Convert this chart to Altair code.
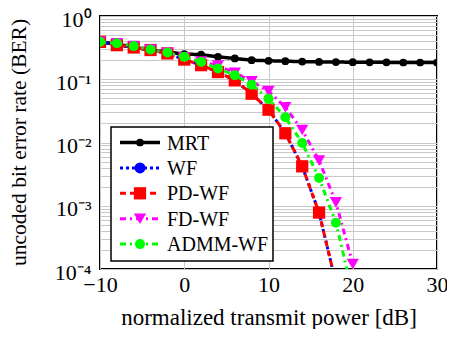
import altair as alt
import pandas as pd

# ---- data ----
snr_db = [-10, -8, -6, -4, -2, 0, 2, 4, 6, 8, 10, 12, 14, 16, 18, 20, 22, 24, 26, 28, 30]
ber_mrt = [0.39, 0.36, 0.32, 0.29, 0.27, 0.25, 0.245, 0.226, 0.213, 0.20, 0.196, 0.193,
           0.19, 0.188, 0.187, 0.186, 0.185, 0.185, 0.184, 0.184, 0.184]
snr_wf = [-10, -8, -6, -4, -2, 0, 2, 4, 6, 8, 10, 12, 14, 16, 18]
ber_wf = [0.39, 0.346, 0.318, 0.29, 0.256, 0.205, 0.167, 0.13, 0.096, 0.059, 0.033,
          0.014, 0.0042, 0.00078, 0.00006]
ber_pdwf = [0.39, 0.346, 0.318, 0.29, 0.256, 0.205, 0.167, 0.13, 0.096, 0.059, 0.033,
            0.014, 0.0042, 0.00078, 0.00006]
snr_fd = [-10, -8, -6, -4, -2, 0, 2, 4, 6, 8, 10, 12, 14, 16, 18, 20]
ber_fdwf = [0.39, 0.37, 0.334, 0.296, 0.262, 0.222, 0.19, 0.165, 0.126, 0.093, 0.065,
            0.036, 0.0158, 0.0052, 0.00113, 0.00012]
ber_admm = [0.39, 0.37, 0.334, 0.296, 0.265, 0.226, 0.188, 0.148, 0.116, 0.082, 0.049,
            0.025, 0.0098, 0.00275, 0.00054, 0.00004]

series = [
    # name, x, y, color, dash, shape, size, width
    ("MRT", snr_db, ber_mrt, "#000000", [1, 0], "circle", 60, 3.5),
    ("WF", snr_wf, ber_wf, "#0000ff", [3, 3], "circle", 120, 3),
    ("PD-WF", snr_wf, ber_pdwf, "#ff0000", [6, 4], "square", 150, 3),
    ("FD-WF", snr_fd, ber_fdwf, "#ff00ff", [6, 4, 2, 4], "triangle-down", 150, 3),
    ("ADMM-WF", snr_fd, ber_admm, "#00ff00", [6, 4, 2, 4], "circle", 100, 3),
]

FONT = "Liberation Serif"
W, H = 337, 253

xscale = alt.Scale(domain=[-10, 30], nice=False, zero=False)
yscale = alt.Scale(type="log", domain=[1e-4, 1], nice=False)

ytick_vals = []
for e in [-4, -3, -2, -1]:
    for m in range(1, 10):
        ytick_vals.append(m * 10 ** e)
ytick_vals.append(1.0)

xaxis = alt.Axis(values=[-10, 0, 10, 20, 30], title="normalized transmit power [dB]",
                 labelExpr="datum.value < 0 ? '\u2212' + (-datum.value) : '' + datum.value",
                 grid=True, ticks=False, domain=False, labelPadding=5,
                 titleY=55, titleBaseline="alphabetic",
                 labelFlush=False, labelFont=FONT, labelFontSize=22, titleFont=FONT,
                 titleFontSize=23, labelOverlap=False)
yaxis = alt.Axis(values=ytick_vals, title="uncoded bit error rate (BER)",
                 labelExpr="(abs(log(datum.value)/log(10) - round(log(datum.value)/log(10))) < 1e-6) ? "
                           "({'0':'10\u2070','-1':'10\u207b\u00b9','-2':'10\u207b\u00b2','-3':'10\u207b\u00b3','-4':'10\u207b\u2074'})[''+round(log(datum.value)/log(10))] : ''",
                 grid=True, ticks=False, domain=False, labelPadding=9, labelOffset=3,
                 titleX=-81, titleY=126, titleBaseline="middle", titleAlign="center",
                 labelFlush=False, labelFont=FONT, labelFontSize=22, titleFont=FONT,
                 titleFontSize=21.5, labelOverlap=False)

layers = []
for name, xs, ys, color, dash, shape, size, width in series:
    df = pd.DataFrame({"x": xs, "y": ys, "s": name})
    base = alt.Chart(df).encode(
        x=alt.X("x:Q", scale=xscale, axis=xaxis),
        y=alt.Y("y:Q", scale=yscale, axis=yaxis))
    line = base.mark_line(color=color, strokeDash=dash, strokeWidth=width, clip=True)
    pts = base.mark_point(shape=shape, size=size, filled=True, color=color, opacity=1,
                          clip=True)
    layers += [line, pts]

# ---- legend (drawn by hand, pgfplots style) ----
leg_names = [s[0] for s in series]
leg_df = pd.DataFrame({"name": leg_names, "i": list(range(len(leg_names)))})
box = alt.Chart(pd.DataFrame({"a": [0]})).mark_rect(
    fill="white", stroke="black", strokeWidth=1.5).encode(
    x=alt.value(11), x2=alt.value(173), y=alt.value(111), y2=alt.value(245))
layers.append(box)
for k, (name, xs, ys, color, dash, shape, size, width) in enumerate(series):
    d = leg_df[leg_df["name"] == name]
    b = alt.Chart(d).transform_calculate(py="126.5 + datum.i * 25.4")
    layers.append(b.mark_rule(color=color, strokeDash=dash, strokeWidth=width).encode(
        x=alt.value(20), x2=alt.value(60), y=alt.Y("py:Q", scale=None)))
    layers.append(b.mark_point(shape=shape, size=size, filled=True, color=color,
                               opacity=1).encode(
        x=alt.value(40), y=alt.Y("py:Q", scale=None)))
    layers.append(b.mark_text(align="left", baseline="middle", font=FONT, fontSize=20,
                              color="black", dy=1).encode(
        x=alt.value(67), y=alt.Y("py:Q", scale=None), text="name:N"))

chart = alt.layer(*layers).properties(
    width=W, height=H,
    autosize=alt.AutoSizeParams(type="none"),
    padding={"left": 92, "top": 8, "right": 10, "bottom": 60},
).configure_view(stroke="black", strokeWidth=2).configure_axis(
    labelFont=FONT, titleFont=FONT,
    labelColor="black", titleColor="black", titleFontWeight="normal",
    gridColor="#c8c8c8", gridWidth=1,
)

chart.save("out.html", embed_options={"renderer": "svg", "actions": False})
